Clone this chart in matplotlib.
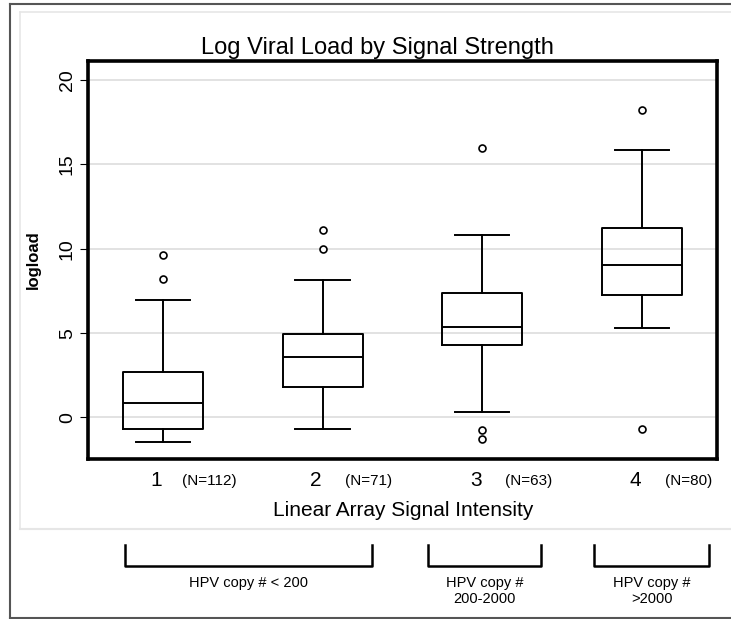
import matplotlib.pyplot as plt
from matplotlib.transforms import blended_transform_factory

plt.rcParams['font.family'] = ['Liberation Sans', 'DejaVu Sans']

# box statistics
groups = [1, 2, 3, 4]
counts = ["(N=112)", "(N=71)", "(N=63)", "(N=80)"]
whislo = [-1.44, -0.69, 0.31, 5.28]
q1 = [-0.69, 1.82, 4.30, 7.28]
med = [0.83, 3.59, 5.38, 9.05]
q3 = [2.70, 4.97, 7.38, 11.20]
whishi = [6.94, 8.12, 10.79, 15.84]
fliers = [[8.2, 9.6], [10.0, 11.1], [15.98, -0.75, -1.26], [18.2, -0.71]]

bracket_spans = [(0.76, 2.31), (2.66, 3.37), (3.70, 4.42)]
bracket_labels = ["HPV copy # < 200", "HPV copy #\n200-2000", "HPV copy #\n>2000"]

stats = []
for i in range(len(groups)):
    stats.append(dict(whislo=whislo[i], q1=q1[i], med=med[i], q3=q3[i],
                      whishi=whishi[i], fliers=fliers[i]))

fig = plt.figure(figsize=(7.31, 6.19), dpi=100)
ax = fig.add_axes([0.121, 0.2585, 0.86, 0.643])

ax.bxp(stats, positions=groups, widths=0.5, showfliers=True,
       boxprops=dict(color="black", lw=1.4),
       medianprops=dict(color="black", lw=1.4),
       whiskerprops=dict(color="black", lw=1.4),
       capprops=dict(color="black", lw=1.4),
       capwidths=0.34,
       flierprops=dict(marker="o", markerfacecolor="white", markeredgecolor="black",
                       markersize=5, markeredgewidth=1.2))

ax.set_xlim(0.534, 4.47)
ax.set_ylim(-2.46, 21.12)
ax.set_yticks([0, 5, 10, 15, 20])
ax.set_yticklabels(["0", "5", "10", "15", "20"], rotation=90, va="center", fontsize=14)
ax.yaxis.grid(True, color="#dddddd", lw=1.2)
ax.set_axisbelow(True)
ax.tick_params(axis="y", length=6, width=0.8, pad=3)
ax.set_xticks([])
for s in ax.spines.values():
    s.set_linewidth(2.6)

ax.set_ylabel("logload", fontsize=12, fontweight="bold", labelpad=13)
ax.set_title("Log Viral Load by Signal Strength", fontsize=17, pad=5, x=0.46)

# category labels with counts
trans = blended_transform_factory(ax.transData, ax.transAxes)
for g, n in zip(groups, counts):
    ax.text(g - 0.04, -0.055, str(g), transform=trans, ha="center", va="center", fontsize=15)
    ax.text(g + 0.29, -0.055, n, transform=trans, ha="center", va="center", fontsize=11)
ax.text(0.5, -0.13, "Linear Array Signal Intensity", transform=ax.transAxes,
        ha="center", va="center", fontsize=15)

# figure frame
fig.add_artist(plt.Line2D([0.0137, 0.0137], [0.0016, 0.9935], transform=fig.transFigure, color="#555555", lw=1.5))
fig.add_artist(plt.Line2D([0.0137, 1.0], [0.9935, 0.9935], transform=fig.transFigure, color="#555555", lw=1.5))
fig.add_artist(plt.Line2D([0.0137, 1.0], [0.0016, 0.0016], transform=fig.transFigure, color="#555555", lw=1.5))
fig.add_artist(plt.Line2D([0.027, 1.0], [0.9806, 0.9806], transform=fig.transFigure, color="#e6e6e6", lw=1.2))
fig.add_artist(plt.Line2D([0.027, 0.027], [0.1454, 0.9806], transform=fig.transFigure, color="#e6e6e6", lw=1.2))
fig.add_artist(plt.Line2D([0.027, 1.0], [0.1454, 0.1454], transform=fig.transFigure, color="#e6e6e6", lw=1.5))

# brackets below the chart
btrans = blended_transform_factory(ax.transData, fig.transFigure)
for (a, b), lab in zip(bracket_spans, bracket_labels):
    fig.add_artist(plt.Line2D([a, a, b, b], [0.1195, 0.0856, 0.0856, 0.1195],
                              transform=btrans, color="black", lw=1.8))
    fig.text((a + b) / 2, 0.069, lab, transform=btrans, ha="center", va="top",
             fontsize=10.5, linespacing=1.15)

fig.savefig("out.png", dpi=100)
